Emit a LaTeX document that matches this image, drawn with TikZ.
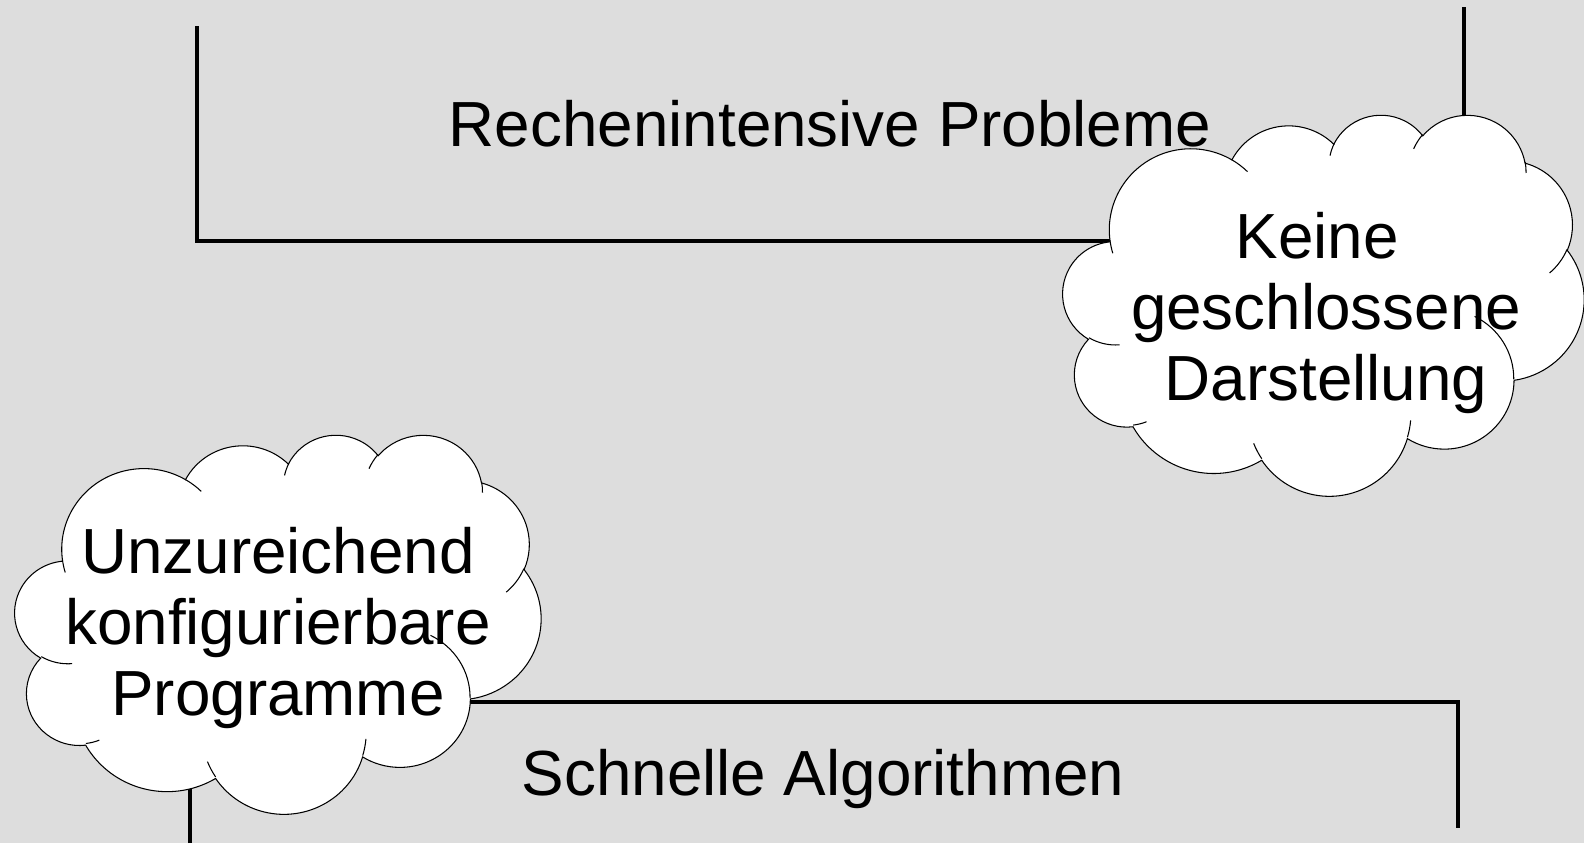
\documentclass[tikz,border=0pt]{standalone}
\usepackage{fontspec}
\setmainfont{Liberation Sans}
\usepackage{tikz}
\definecolor{mybg}{RGB}{221,221,221}
\tikzstyle{frame}=[line width=1.9pt]
\tikzstyle{puff}=[draw=black,fill=white,line width=0.6pt]
\tikzstyle{txt}=[inner sep=0pt,font=\fontsize{36.3}{40.5}\selectfont]
% one arc of the cloud outline: x radius, y radius, start angle, sweep
\newcommand\ooarc[4]{arc[x radius=#1,y radius=#2,
  start angle={atan2((#1)*sin(#3),(#2)*cos(#3))},
  delta angle={mod(atan2((#1)*sin((#3)+(#4)),(#2)*cos((#3)+(#4)))-atan2((#1)*sin(#3),(#2)*cos(#3))+720,360)}]}
\newcommand\cloudpath{(390,1437)
  \ooarc{675.3}{919.0}{-190.4875}{123.7805}
  \ooarc{533.3}{726.7}{-144.1024}{89.9452}
  \ooarc{436.5}{594.5}{-145.8079}{99.7230}
  \ooarc{485.7}{659.5}{-130.9861}{117.2417}
  \ooarc{533.3}{727.3}{-78.7089}{109.0269}
  \ooarc{677.5}{922.0}{-46.2673}{130.2690}
  \ooarc{578.5}{786.7}{0.6250}{114.0333}
  \ooarc{675.2}{921.5}{22.4516}{115.1726}
  \ooarc{772.0}{1054.3}{66.2426}{75.7110}
  \ooarc{436.0}{591.8}{-274.9421}{146.7356}
  \ooarc{434.5}{594.5}{-246.8285}{152.5189} -- cycle}
\newcommand\cloudinner{%
  (469.3,2617.7) \ooarc{434.5}{594.5}{86.7420}{26.4295}
  (692.8,3489.9) \ooarc{436.0}{591.8}{73.6105}{11.4475}
  (1647.8,3909.0) \ooarc{675.2}{921.5}{137.6242}{14.0811}
  (2882.7,3475.1) \ooarc{675.2}{921.5}{6.4533}{15.9984}
  (3412.9,2295.4) \ooarc{578.5}{786.7}{-70.2924}{70.9174}
  (4179.8,1535.4) \ooarc{533.3}{727.3}{30.3180}{27.7515}
  (3832.4,542.6) \ooarc{485.7}{659.5}{-13.7443}{14.8589}
  (2907.8,395.2) \ooarc{485.7}{659.5}{-149.1815}{18.1954}
  (2214.1,472.0) \ooarc{436.5}{594.5}{-163.4943}{17.6864}
  (1400.0,519.2) \ooarc{675.3}{919.0}{-66.7070}{12.3194}
  (412.7,1578.9) \ooarc{675.3}{919.0}{157.6544}{11.8582}}
% cloud in the box with top left corner (#1,#2), width #3, height #4
\newcommand\drawcloud[4]{%
  \begin{scope}[shift={(#1,#2)},x=#3*0.02cm/4320,y=-#4*0.02cm/4320]
    \draw[puff] \cloudpath;
    \draw[puff,fill=none] \cloudinner;
  \end{scope}}

\begin{document}
\begin{tikzpicture}[x=0.02cm,y=-0.02cm]
\fill[mybg] (0,0) rectangle (1584,843);
\useasboundingbox (0,0) rectangle (1584,843);
% top frame
\coordinate (t1) at (197,26);
\coordinate (t2) at (197,241);
\coordinate (t3) at (1464,241);
\coordinate (t4) at (1464,7);
\draw[frame] (t1) -- (t2) -- (t3) -- (t4);
% bottom frame
\coordinate (b1) at (190,843);
\coordinate (b2) at (190,702);
\coordinate (b3) at (1458,702);
\coordinate (b4) at (1458,828);
\draw[frame] (b1) -- (b2) -- (b3) -- (b4);
\draw (830,146.5) node [txt,anchor=base] (rp) {Rechenintensive Probleme};
\draw (823,795) node [txt,anchor=base] (sa) {Schnelle Algorithmen};
% clouds
\drawcloud{1063}{114}{521}{381}
\drawcloud{15}{434}{526}{379}
\draw (1326,258) node [txt,anchor=base] (kd) {\begin{tabular}[t]{@{}c@{}}Keine\kern.278em\\geschlossene\\Darstellung\end{tabular}};
\draw (278,573) node [txt,anchor=base] (up) {\begin{tabular}[t]{@{}c@{}}Unzureichend\\konfigurierbare\\Programme\end{tabular}};
\end{tikzpicture}
\end{document}
